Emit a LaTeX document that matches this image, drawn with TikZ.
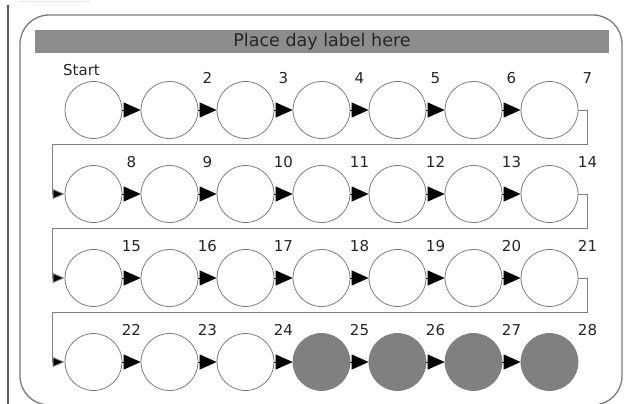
\documentclass[tikz,border=0pt]{standalone}
\usepackage{fontspec}
\setmainfont{DejaVu Sans}
\usetikzlibrary{arrows.meta}
\definecolor{barGrey}{HTML}{8A8C8E}
\definecolor{dotGrey}{HTML}{808080}
\definecolor{lineGrey}{HTML}{7C7C7C}
\definecolor{frameGrey}{HTML}{7A7A7A}

\begin{document}
\begin{tikzpicture}[x=1pt, y=-1pt, every node/.style={font=\fontsize{15}{17}\selectfont},
	day/.style={circle, draw=lineGrey, line width=0.8pt, minimum size=57pt, inner sep=0pt},
	num/.style={text=black!85, inner sep=0pt},
	hop/.style={black, line width=0.8pt, -{Triangle[length=17pt,width=15pt]}},
	link/.style={lineGrey, line width=0.9pt, -{Triangle[length=12pt,width=10pt, fill=black]}}]
	\useasboundingbox (0,0) rectangle (624,404);
	\draw[red!12] (20,-3) rectangle (88,1);
	\draw[black!65, line width=1.6pt] (8,5) -- (8,404);
	\draw[frameGrey, line width=1.3pt, rounded corners=29pt] (20,15) rectangle (622,405);
	\fill[barGrey] (35,30) rectangle (609,53);
	\node[font=\fontsize{17.5}{20}\selectfont, text=black!85] (title) at (322,41.5) {Place day label here};
	% days
	\foreach \n in {1,...,24} {
		\pgfmathtruncatemacro{\row}{(\n-1)/7}
		\pgfmathtruncatemacro{\col}{mod(\n-1,7)}
		\node[day] (d\n) at (93.5+76*\col, 110+84*\row) {};
	}
	\foreach \n in {25,...,28} {
		\pgfmathtruncatemacro{\col}{mod(\n-1,7)}
		\node[day, fill=dotGrey, draw=dotGrey] (d\n) at (93.5+76*\col, 362) {};
	}
	\node[num] (start) at ([shift={(-12,-40)}]d1.center) {Start};
	\foreach \n in {2,...,28}
		\node[num] (n\n) at ([shift={(38,-32)}]d\n.center) {\n};
	% arrows
	\foreach \r in {0,...,3}
		\foreach \c in {1,...,6} {
			\pgfmathtruncatemacro{\a}{7*\r+\c}
			\pgfmathtruncatemacro{\b}{\a+1}
			\draw[hop] (d\a) -- (d\b);
		}
	\foreach \a/\b/\yy in {7/8/144, 14/15/228, 21/22/312}
		\draw[link] (d\a.east) -| (587,\yy) -- (52,\yy) |- (d\b.west);
\end{tikzpicture}
\end{document}
